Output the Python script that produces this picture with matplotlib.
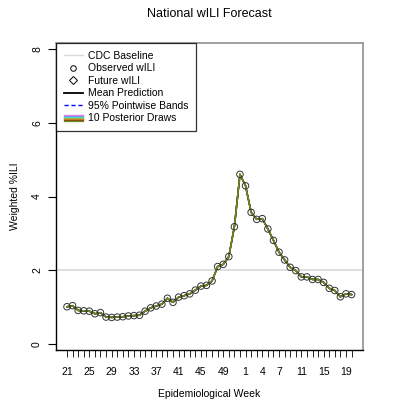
import matplotlib
matplotlib.use("Agg")
import matplotlib.pyplot as plt
from matplotlib.lines import Line2D
from matplotlib.legend_handler import HandlerBase

plt.rcParams['font.family'] = ['Liberation Sans', 'DejaVu Sans']

# ---- data ----
weeks = list(range(21, 53)) + list(range(1, 21))
wili = [1.01, 1.04, 0.91, 0.90, 0.89, 0.82, 0.85, 0.73, 0.72, 0.73,
        0.74, 0.76, 0.77, 0.78, 0.89, 0.98, 1.03, 1.08, 1.24, 1.13,
        1.27, 1.31, 1.36, 1.46, 1.57, 1.59, 1.71, 2.10, 2.16, 2.37,
        3.18, 4.60, 4.29, 3.57, 3.38, 3.40, 3.12, 2.81, 2.49, 2.28,
        2.08, 1.99, 1.82, 1.82, 1.75, 1.75, 1.67, 1.51, 1.45, 1.28,
        1.36, 1.34]
baseline = 2.0
label_positions = [0, 4, 8, 12, 16, 20, 24, 28, 32, 35, 38, 42, 46, 50]
draw_colors = ['#FF7F9F', '#EE82EE', '#8080FF', '#87CEEB', '#40E0D0',
               '#9ACD32', '#FF4040', '#CD853F', '#8B4513', '#6B8E23']
legend_labels = ['CDC Baseline', 'Observed wILI', 'Future wILI',
                 'Mean Prediction', '95% Pointwise Bands', '10 Posterior Draws']

x = list(range(len(weeks)))

fig = plt.figure(figsize=(4.07, 4.07), dpi=100)
ax = fig.add_axes([56/407, 1-350/407, 307/407, 307/407])

ax.axhline(baseline, color='#D9D9D9', lw=1.2, zorder=1)
for c in draw_colors:
    ax.plot(x, wili, color=c, lw=1.0, zorder=2)
ax.plot(x, wili, color='blue', lw=0.8, ls='--', zorder=2)
ax.plot(x, wili, color='black', lw=0.8, zorder=2)
ax.plot(x, wili, color=draw_colors[-1], lw=1.2, zorder=3)
ax.scatter(x, wili, s=22, facecolors='none', edgecolors='#333333', linewidths=0.7, zorder=4)

ax.set_xlim(-1.97, 53.05)
ax.set_ylim(-0.163, 8.163)

ax.set_xticks(x)
ax.set_xticklabels([str(w) if i in label_positions else ''
                    for i, w in enumerate(weeks)], fontsize=7.5)
ax.set_yticks([0, 2, 4, 6, 8])
ax.set_yticklabels(['0', '2', '4', '6', '8'], rotation=90, va='center', fontsize=7.5)
ax.tick_params(axis='x', length=5, width=0.6, pad=7)
ax.tick_params(axis='y', length=6, width=0.8, pad=4)

for s in ['top', 'right']:
    ax.spines[s].set_color('#999999')
    ax.spines[s].set_linewidth(1.3)
for s in ['left', 'bottom']:
    ax.spines[s].set_color('black')
    ax.spines[s].set_linewidth(1.0)

ax.set_title('National wILI Forecast', fontsize=9, pad=19)
ax.set_xlabel('Epidemiological Week', fontsize=7.5, labelpad=9)
ax.set_ylabel('Weighted %ILI', fontsize=7.5, labelpad=9)


class StackHandler(HandlerBase):
    def create_artists(self, legend, orig_handle, xdescent, ydescent,
                       width, height, fontsize, trans):
        arts = []
        n = len(draw_colors)
        for k, c in enumerate(draw_colors):
            yy = height * (0.9 - 0.8 * k / (n - 1)) - ydescent
            l = Line2D([-xdescent, width - xdescent], [yy, yy], color=c, lw=0.9,
                       transform=trans)
            arts.append(l)
        return arts


h_base = Line2D([], [], color='#D9D9D9', lw=1)
h_obs = Line2D([], [], ls='none', marker='o', mfc='none', mec='black', ms=4, mew=0.7)
h_fut = Line2D([], [], ls='none', marker='D', mfc='none', mec='black', ms=4, mew=0.7)
h_mean = Line2D([], [], color='black', lw=1.3)
h_band = Line2D([], [], color='#0000FF', lw=1.0, ls=(0, (3, 2)))
h_draw = object()

leg = ax.legend([h_base, h_obs, h_fut, h_mean, h_band, h_draw], legend_labels,
                handler_map={h_draw: StackHandler()},
                loc='upper left', bbox_to_anchor=(0, 1), borderaxespad=0,
                fontsize=7.5, frameon=True, fancybox=False, edgecolor='black',
                handlelength=1.8, handletextpad=0.5, labelspacing=0.24,
                borderpad=0.75)
leg.get_frame().set_linewidth(0.9)
leg.get_frame().set_facecolor('white')
leg.set_zorder(5)

fig.savefig('out.png', dpi=100)
